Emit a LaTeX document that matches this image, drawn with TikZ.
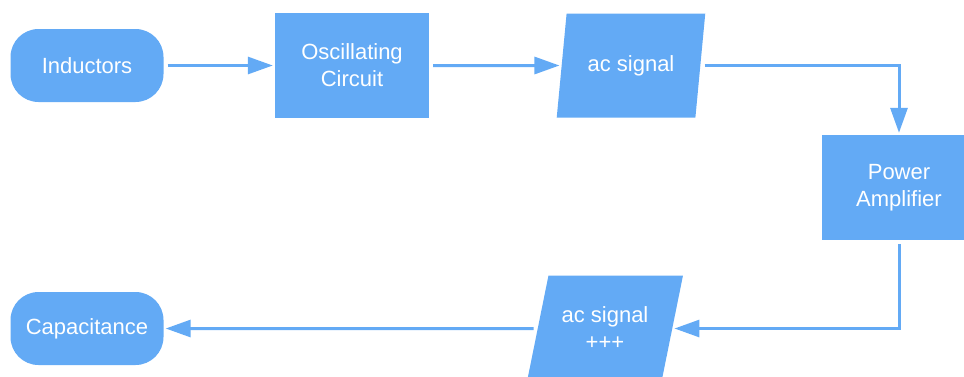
\documentclass[tikz,border=0pt]{standalone}
\usepackage{fontspec}
\setmainfont{Liberation Sans}
\usetikzlibrary{shapes.geometric,arrows.meta}
\definecolor{boxblue}{RGB}{99,170,245}
\tikzset{
  blk/.style={fill=boxblue, draw=none, text=white, align=center,
    font=\fontsize{22}{27}\selectfont, inner sep=0pt},
  term/.style={blk, rounded corners=28pt, minimum width=153pt, minimum height=73pt},
  procbox/.style={blk, minimum width=154pt, minimum height=105pt},
  iobox/.style={blk, trapezium, trapezium stretches=true},
  conn/.style={draw=boxblue, line width=3pt,
    -{Triangle[length=25pt,width=17pt]}, shorten <=4pt, shorten >=2pt}
}
\begin{document}
\begin{tikzpicture}[x=1pt,y=-1pt]
\useasboundingbox (0,0) rectangle (964,376);
\clip (0,0) rectangle (964,376);
\node[term] (ind) at (87,65.5) {Inductors};
\node[procbox] (osc) at (352,65.5) {Oscillating\\Circuit};
\node[iobox, trapezium left angle=72, trapezium right angle=108,
  minimum width=150pt, minimum height=104pt] (ac1) at (631,65.5) {ac signal};
\node[procbox] (pa) at (899,187.5) {Power\\Amplifier};
\node[iobox, trapezium left angle=69, trapezium right angle=111,
  minimum width=156pt, minimum height=106pt] (ac2) at (605,328.5) {ac signal\\+++};
\node[term] (cap) at (87,328.5) {Capacitance};

\draw[conn] (ind) -- (osc);
\draw[conn] (osc) -- (ac1);
\draw[conn] (ac1) -| (pa);
\draw[conn] (pa) |- (ac2);
\draw[conn] (ac2) -- (cap);
\end{tikzpicture}
\end{document}
